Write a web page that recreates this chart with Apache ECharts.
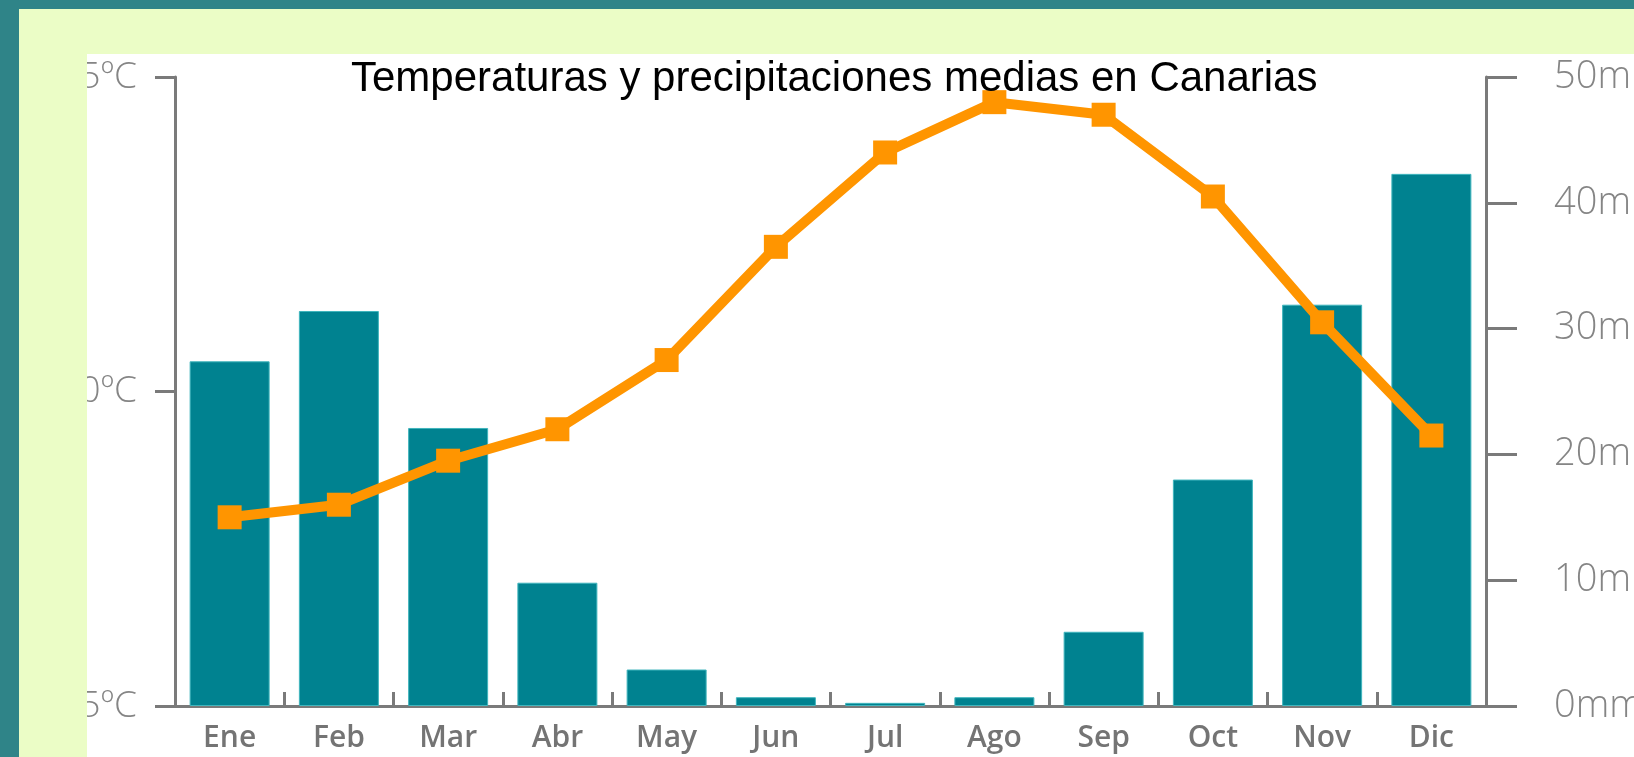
<!DOCTYPE html>
<html>
<head>
<meta charset="utf-8">
<script src="https://cdn.jsdelivr.net/npm/echarts@6/dist/echarts.min.js"></script>
<style>
  html, body { margin: 0; padding: 0; width: 1634px; height: 757px; overflow: hidden; background: #2f8488; }
  #green { position: absolute; left: 19px; top: 9px; width: 1615px; height: 748px; background: #ebfdc6; }
  #white { position: absolute; left: 87px; top: 54px; width: 1547px; height: 703px; background: #ffffff; }
  #chart { position: absolute; left: 87px; top: 54px; width: 1547px; height: 703px; }
</style>
</head>
<body>
<div id="green"></div>
<div id="white"></div>
<div id="chart"></div>
<script>
const months = ['Ene', 'Feb', 'Mar', 'Abr', 'May', 'Jun', 'Jul', 'Ago', 'Sep', 'Oct', 'Nov', 'Dic'];
const precipitation = [27.4, 31.4, 22.1, 9.8, 2.9, 0.7, 0.25, 0.7, 5.9, 18.0, 31.9, 42.3];
const temperature = [18.0, 18.2, 18.9, 19.4, 20.5, 22.3, 23.8, 24.6, 24.4, 23.1, 21.1, 19.3];
const titleText = 'Temperaturas y precipitaciones medias en Canarias';

const chart = echarts.init(document.getElementById('chart'), null, { renderer: 'canvas' });
const axisGray = '#7a7a7a';
chart.setOption({
  animation: false,
  title: {
    text: titleText,
    left: 264,
    top: 4,
    padding: 0,
    textStyle: { fontFamily: 'Liberation Sans', fontSize: 42, fontWeight: 'normal', color: '#000000' }
  },
  grid: { left: 88, right: 148, top: 23, bottom: 51, containLabel: false, outerBoundsMode: 'none' },
  xAxis: {
    type: 'category',
    data: months,
    axisLine: { lineStyle: { color: axisGray, width: 3 } },
    axisTick: { show: true, inside: true, length: 14, alignWithLabel: false, lineStyle: { color: axisGray, width: 3 } },
    axisLabel: { color: '#747474', fontFamily: 'Open Sans', fontWeight: 600, fontSize: 30, margin: 17, interval: 0 }
  },
  yAxis: [
    {
      type: 'value', min: 15, max: 25, interval: 5, position: 'left',
      axisLine: { show: true, lineStyle: { color: axisGray, width: 3 } },
      axisTick: { show: true, length: 20, lineStyle: { color: axisGray, width: 3 } },
      axisLabel: { formatter: '{value}ºC', color: '#858585', fontFamily: 'Open Sans', fontWeight: 300, fontSize: 37, margin: 38 },
      splitLine: { show: false }
    },
    {
      type: 'value', min: 0, max: 50, interval: 10, position: 'right',
      axisLine: { show: true, lineStyle: { color: axisGray, width: 3 } },
      axisTick: { show: true, length: 31, lineStyle: { color: axisGray, width: 3 } },
      axisLabel: { formatter: '{value}mm', color: '#858585', fontFamily: 'Open Sans', fontWeight: 300, fontSize: 38, margin: 68 },
      splitLine: { show: false }
    }
  ],
  series: [
    {
      type: 'bar', yAxisIndex: 1, data: precipitation, barWidth: 80,
      itemStyle: { color: '#008290', borderColor: '#3fb5bd', borderWidth: 1 },
      z: 2
    },
    {
      type: 'line', yAxisIndex: 0, data: temperature,
      lineStyle: { color: '#ff9500', width: 10 },
      itemStyle: { color: '#ff9500' },
      symbol: 'rect', symbolSize: 24, showSymbol: true,
      z: 3
    }
  ]
});
</script>
</body>
</html>
